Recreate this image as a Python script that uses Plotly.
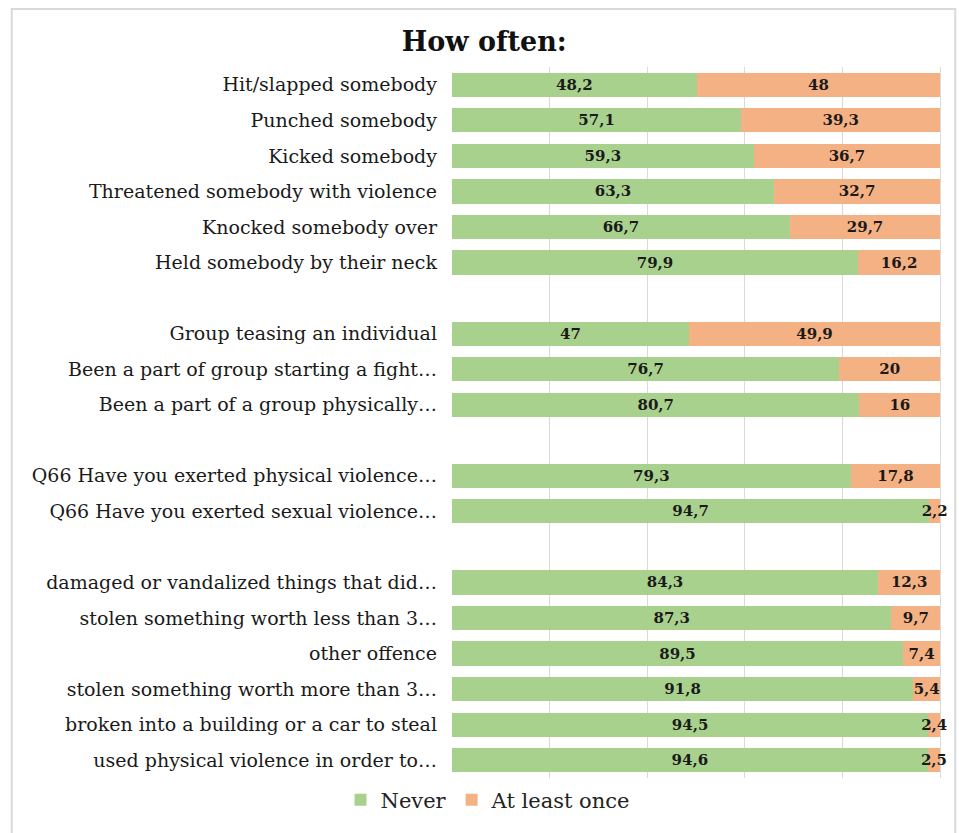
import plotly.graph_objects as go

categories = [
    "Hit/slapped somebody",
    "Punched somebody",
    "Kicked somebody",
    "Threatened somebody with violence",
    "Knocked somebody over",
    "Held somebody by their neck",
    " ",
    "Group teasing an individual",
    "Been a part of group starting a fight…",
    "Been a part of a group physically…",
    "  ",
    "Q66 Have you exerted physical violence…",
    "Q66 Have you exerted sexual violence…",
    "   ",
    "damaged or vandalized things that did…",
    "stolen something worth less than 3…",
    "other offence",
    "stolen something worth more than 3…",
    "broken into a building or a car to steal",
    "used physical violence in order to…",
]

never = [48.2, 57.1, 59.3, 63.3, 66.7, 79.9, None,
         47, 76.7, 80.7, None,
         79.3, 94.7, None,
         84.3, 87.3, 89.5, 91.8, 94.5, 94.6]
at_least_once = [48, 39.3, 36.7, 32.7, 29.7, 16.2, None,
                 49.9, 20, 16, None,
                 17.8, 2.2, None,
                 12.3, 9.7, 7.4, 5.4, 2.4, 2.5]

series_names = ["Never", "At least once"]
colors = ["#A9D18E", "#F4B183"]


def fmt(v):
    if v is None:
        return ""
    return f"{v:g}".replace(".", ",")


fig = go.Figure()
for name, vals, col in zip(series_names, [never, at_least_once], colors):
    fig.add_trace(go.Bar(
        y=categories, x=vals, orientation="h", name=name,
        marker=dict(color=col, line=dict(width=0)),
        text=[fmt(v) for v in vals],
        textposition="inside", insidetextanchor="middle", textangle=0,
        constraintext="none",
        textfont=dict(family="DejaVu Serif", size=15, color="#1a1a1a", weight="bold"),
        width=0.68,
    ))

# x range extends a little past 100 so the small end labels are not clipped;
# the right margin keeps the 100 line at the same place.
x_max = 102
plot_w_100 = 488
plot_w = plot_w_100 * x_max / 100

fig.update_layout(
    barmode="stack", barnorm="percent",
    width=959, height=833,
    margin=dict(l=452, r=959 - 452 - plot_w, t=67, b=55),
    paper_bgcolor="white", plot_bgcolor="white",
    uniformtext=dict(minsize=15, mode="show"),
    title=dict(text="<b>How often:</b>", x=0.505, xref="container", xanchor="center",
               y=0.95, yref="container", yanchor="middle",
               font=dict(family="DejaVu Serif", size=27, color="#111111")),
    legend=dict(orientation="h", x=(488 - 452) / plot_w, xanchor="center", y=-0.031, yanchor="middle",
                font=dict(family="DejaVu Serif", size=21, color="#222222"),
                itemsizing="constant", traceorder="normal"),
    font=dict(family="DejaVu Serif", color="#222222"),
    showlegend=True,
)
fig.update_xaxes(range=[0, x_max], tickvals=[0, 20, 40, 60, 80, 100], showticklabels=False,
                 showgrid=True, gridcolor="#d9d9d9", gridwidth=1, zeroline=False,
                 showline=False, fixedrange=True)
fig.update_yaxes(autorange="reversed", type="category", showgrid=False, showline=False,
                 ticks="", ticklabelstandoff=14,
                 tickfont=dict(family="DejaVu Serif", size=19, color="#1a1a1a"))

fig.add_shape(type="rect", xref="paper", yref="paper",
              x0=(12 - 452) / plot_w, x1=(955 - 452) / plot_w,
              y0=(778 - 845) / 711, y1=(778 - 9) / 711,
              line=dict(color="#d9d9d9", width=2), fillcolor="rgba(0,0,0,0)", layer="below")

fig.write_html("out.html")
